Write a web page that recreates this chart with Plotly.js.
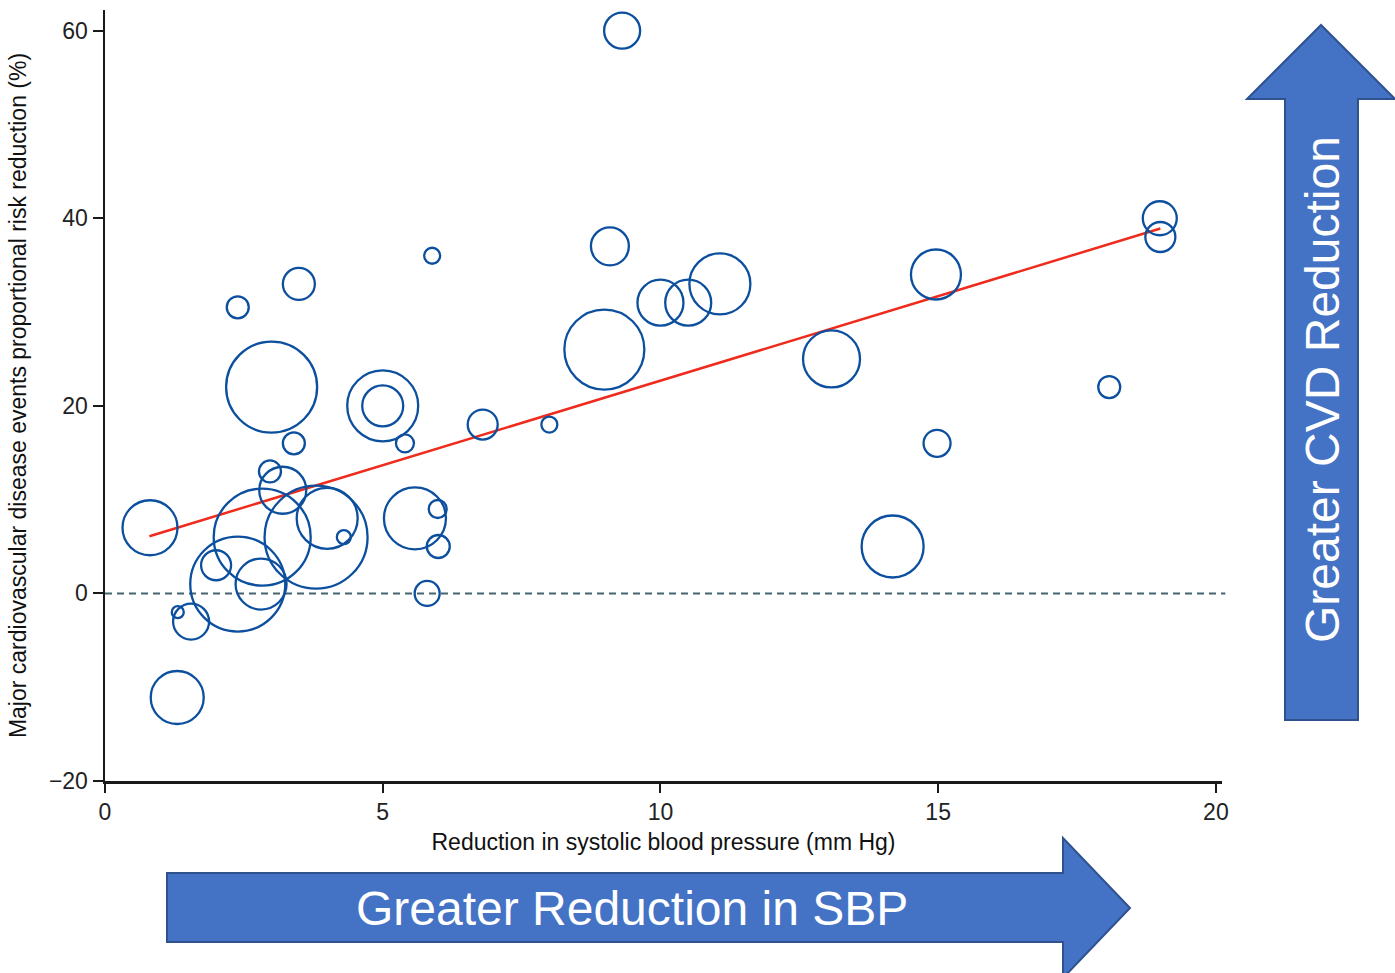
<!DOCTYPE html>
<html>
<head>
<meta charset="utf-8">
<script src="https://cdn.plot.ly/plotly-3.0.1.min.js"></script>
<style>html,body{margin:0;padding:0;background:#fff;}#chart{width:1395px;height:973px;}</style>
</head>
<body>
<div id="chart"></div>
<script>
// Trial data: reduction in SBP (mm Hg), proportional risk reduction (%), trial weight (bubble diameter)
var sbpReduction = [9.31, 18.99, 19.0, 14.96, 11.07, 10.5, 10.0, 9.09, 8.99, 13.08, 18.08, 14.98, 14.18, 8.0, 6.8, 5.89, 3.49, 2.39, 3.0, 5.0, 5.0, 5.4, 3.4, 2.97, 3.2, 0.81, 4.0, 3.8, 4.3, 2.83, 2.39, 2.81, 2.0, 1.55, 1.31, 1.3, 5.8, 5.58, 5.99, 6.0];
var riskReduction = [60, 40, 38, 34, 33, 31, 31, 37, 26, 25, 22, 16, 5, 18, 18, 36, 33, 30.5, 22, 20, 20, 16, 16, 13, 11, 7, 8, 6, 6, 6, 1, 1, 3, -3, -2, -11.1, 0, 8, 9, 5];
var trialWeight = [36, 34, 30, 50, 61, 46, 46, 38, 80, 57, 22, 27, 62, 16, 30, 16, 32, 22, 91, 71, 41, 18, 22, 22, 47, 55, 61, 103, 14, 97, 95, 51, 30, 36, 12, 53, 25, 62, 18, 23];

// Meta-regression line endpoints
var trendX = [0.8, 19.0];
var trendY = [6.1, 38.9];

// Axis ticks
var xTicks = [0, 5, 10, 15, 20];
var yTicks = [-20, 0, 20, 40, 60];

var W = 1395, H = 973;
var M = {l: 105, r: 173, t: 10, b: 192};
var pw = W - M.l - M.r, ph = H - M.t - M.b;
function px(x) { return (x - M.l) / pw; }
function py(y) { return (H - M.b - y) / ph; }
function pathFrom(points) {
  return points.map(function (p, i) { return (i ? 'L' : 'M') + px(p[0]).toFixed(5) + ',' + py(p[1]).toFixed(5); }).join(' ') + ' Z';
}

var arrowFill = '#4472C4', arrowLine = '#2F528F';

var upArrow = pathFrom([[1285, 720], [1285, 99], [1247, 99], [1321, 25], [1395, 99], [1358, 99], [1358, 720]]);
var rightArrow = pathFrom([[167, 873], [1063, 873], [1063, 838], [1130, 908], [1063, 978], [1063, 942], [167, 942]]);

var traces = [
  {
    x: trendX, y: trendY, type: 'scatter', mode: 'lines',
    line: {color: '#EE2B1C', width: 2.5}, hoverinfo: 'skip', cliponaxis: false
  },
  {
    x: sbpReduction, y: riskReduction, type: 'scatter', mode: 'markers',
    marker: {size: trialWeight, sizemode: 'diameter', color: 'rgba(0,0,0,0)', opacity: 1,
             line: {color: '#0B4F9E', width: 2.3}},
    cliponaxis: false
  }
];

var tickFont = {family: 'Liberation Sans, Arial, sans-serif', size: 23, color: '#222'};
var titleFont = {family: 'Liberation Sans, Arial, sans-serif', size: 23, color: '#111'};

var layout = {
  width: W, height: H,
  margin: M,
  paper_bgcolor: '#fff', plot_bgcolor: '#fff',
  showlegend: false,
  xaxis: {
    range: [0, 20.11], tickvals: xTicks, ticktext: xTicks.map(String),
    showgrid: false, zeroline: false, showline: true, linecolor: '#1a1a1a', linewidth: 2.5,
    ticks: 'outside', ticklen: 9, tickwidth: 2, tickcolor: '#1a1a1a',
    tickfont: tickFont,
    title: {text: 'Reduction in systolic blood pressure (mm Hg)', font: titleFont, standoff: 10}
  },
  yaxis: {
    range: [-20, 62.2], tickvals: yTicks, ticktext: yTicks.map(function (v) { return v < 0 ? '\u2212' + Math.abs(v) : String(v); }),
    showgrid: false, zeroline: false, showline: true, linecolor: '#1a1a1a', linewidth: 2.5,
    ticks: 'outside', ticklen: 10, tickwidth: 2, tickcolor: '#1a1a1a',
    tickfont: tickFont,
    title: {text: 'Major cardiovascular disease events proportional risk reduction (%)', font: titleFont, standoff: 16}
  },
  shapes: [
    {type: 'line', xref: 'paper', yref: 'y', x0: 0, x1: 1.003, y0: 0, y1: 0,
     line: {color: '#45646F', width: 2, dash: '7px,5px'}, layer: 'below'},
    {type: 'path', xref: 'paper', yref: 'paper', path: upArrow,
     fillcolor: arrowFill, line: {color: arrowLine, width: 2}, layer: 'above'},
    {type: 'path', xref: 'paper', yref: 'paper', path: rightArrow,
     fillcolor: arrowFill, line: {color: arrowLine, width: 2}, layer: 'above'}
  ],
  annotations: [
    {text: 'Greater CVD Reduction', xref: 'paper', yref: 'paper', x: px(1322), y: py(390),
     showarrow: false, textangle: -90, xanchor: 'center', yanchor: 'middle',
     font: {family: 'Liberation Sans, Arial, sans-serif', size: 48, color: '#fff'}},
    {text: 'Greater Reduction in SBP', xref: 'paper', yref: 'paper', x: px(632), y: py(908),
     showarrow: false, xanchor: 'center', yanchor: 'middle',
     font: {family: 'Liberation Sans, Arial, sans-serif', size: 48, color: '#fff'}}
  ]
};

Plotly.newPlot('chart', traces, layout, {displayModeBar: false, staticPlot: true});
</script>
</body>
</html>
